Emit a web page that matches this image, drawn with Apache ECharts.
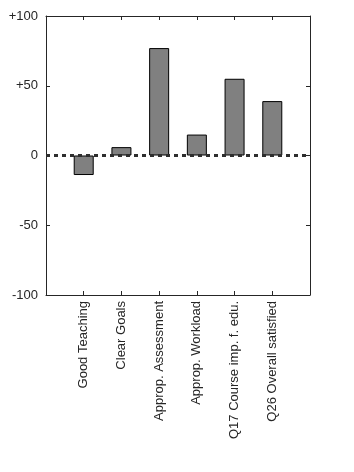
<!DOCTYPE html>
<html>
<head>
<meta charset="utf-8">
<script src="https://cdn.jsdelivr.net/npm/echarts@6/dist/echarts.min.js"></script>
<style>
  html, body { margin: 0; padding: 0; background: #ffffff; }
  #chart { width: 354px; height: 472px; }
</style>
</head>
<body>
<div id="chart"></div>
<script>
// data
const categories = ['Good Teaching', 'Clear Goals', 'Approp. Assessment', 'Approp. Workload', 'Q17 Course imp. f. edu.', 'Q26 Overall satisfied'];
const scores = [-14, 6, 77, 15, 55, 39];
const yTicks = [-100, -50, 0, 50, 100];

// empty slot at each end so the categories sit inside the box
const axisData = [''].concat(categories, ['']);
const barData = [null].concat(scores, [null]);

const font = "'Liberation Sans', Arial, sans-serif";
const ink = '#262626';

const myChart = echarts.init(document.getElementById('chart'), null, { renderer: 'canvas' });

const xBase = {
  type: 'category',
  data: axisData,
  boundaryGap: false,
  axisLine: { show: true, onZero: false, lineStyle: { color: ink, width: 1 } },
  axisTick: { show: true, inside: true, length: 4, interval: 0, lineStyle: { color: ink } },
  splitLine: { show: false }
};

const yBase = {
  type: 'value',
  min: yTicks[0],
  max: yTicks[yTicks.length - 1],
  interval: 50,
  axisLine: { show: true, onZero: false, lineStyle: { color: ink, width: 1 } },
  axisTick: { show: true, inside: true, length: 4, lineStyle: { color: ink } },
  splitLine: { show: false }
};

const option = {
  animation: false,
  grid: { left: 46, right: 44, top: 16, bottom: 177, containLabel: false },
  xAxis: [
    Object.assign({}, xBase, {
      position: 'bottom',
      axisLabel: {
        show: true,
        interval: 0,
        rotate: 90,
        margin: 6,
        color: ink,
        fontFamily: font,
        fontSize: 13
      }
    }),
    Object.assign({}, xBase, { position: 'top', axisLabel: { show: false } })
  ],
  yAxis: [
    Object.assign({}, yBase, {
      position: 'left',
      axisLabel: {
        show: true,
        margin: 8,
        color: ink,
        fontFamily: font,
        fontSize: 13,
        formatter: (v) => (v > 0 ? '+' + v : String(v))
      }
    }),
    Object.assign({}, yBase, { position: 'right', axisLabel: { show: false } })
  ],
  series: [
    {
      type: 'bar',
      data: barData,
      barWidth: 20,
      itemStyle: { color: '#808080', borderColor: '#000000', borderWidth: 1 },
      markLine: {
        silent: true,
        symbol: 'none',
        label: { show: false },
        lineStyle: { color: '#2e2e2e', width: 3, type: [4, 4] },
        data: [{ yAxis: 0 }]
      }
    }
  ]
};

myChart.setOption(option);
</script>
</body>
</html>
